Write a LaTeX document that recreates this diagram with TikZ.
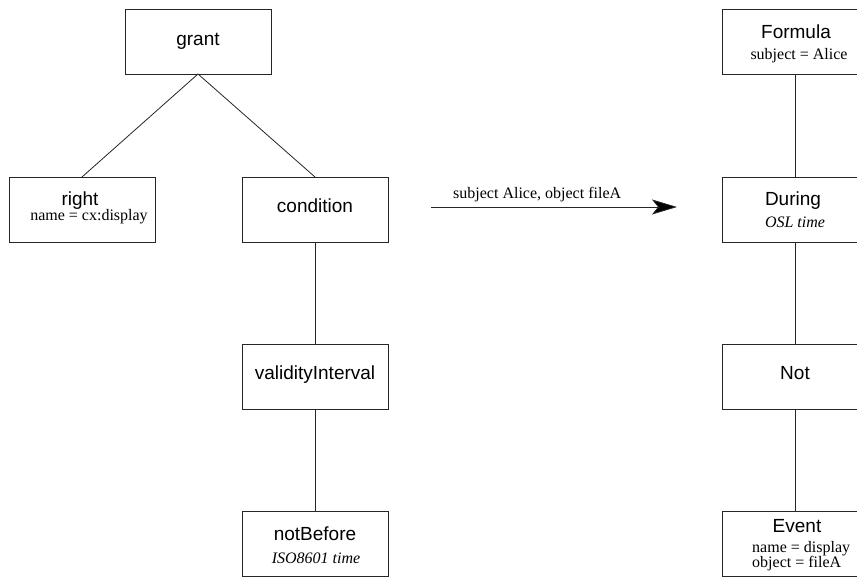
\documentclass[tikz,border=0pt]{standalone}
\usepackage{fontspec}
\setmainfont{Liberation Serif}
\setsansfont{Liberation Sans}
\usetikzlibrary{arrows.meta}

\tikzset{
  elem/.style={draw=black!85, line width=0.9pt, rectangle, inner sep=0pt, outer sep=0pt,
               minimum width=146pt, minimum height=65pt},
  tag/.style={anchor=base, inner sep=0pt, font=\sffamily\fontsize{19}{22}\selectfont},
  attr/.style={anchor=base, inner sep=0pt, font=\fontsize{16}{18}\selectfont},
  link/.style={draw=black!85, line width=0.8pt},
}

\begin{document}
\begin{tikzpicture}[x=1pt, y=-1pt]
  \useasboundingbox (0,0) rectangle (857,577);

  % ---- XML rights expression tree ----
  \node[elem] (grant) at (198,41.5) {};
  \node[tag] (grant-t) at (198,46) {grant};

  \node[elem] (right) at (82,209.5) {};
  \node[tag] (right-t) at (80,206) {right};
  \node[attr] (right-a) at (89,221) {name = cx:display};

  \node[elem] (condition) at (315,209.5) {};
  \node[tag] (condition-t) at (315,213) {condition};

  \node[elem] (validity) at (315,376.5) {};
  \node[tag] (validity-t) at (315,380) {validityInterval};

  \node[elem] (notbefore) at (315,544) {};
  \node[tag] (notbefore-t) at (315,540) {notBefore};
  \node[attr] (notbefore-a) at (316,563) {\itshape ISO8601 time};

  \draw[link] (grant.south) -- (right.north);
  \draw[link] (grant.south) -- (condition.north);
  \draw[link] (condition.south) -- (validity.north);
  \draw[link] (validity.south) -- (notbefore.north);

  % ---- translation arrow ----
  \coordinate (arr-from) at (431,207);
  \coordinate (arr-to) at (677,207);
  \draw[link, -{Stealth[length=25pt, width=15pt, inset=6pt, fill=black]}] (arr-from) -- (arr-to);
  \node[attr, anchor=base west] (arr-label) at (453,199) {subject Alice, object fileA};

  % ---- logic formula tree ----
  \node[elem] (formula) at (795,41.5) {};
  \node[tag] (formula-t) at (796,39) {Formula};
  \node[attr] (formula-a) at (799,60) {subject = Alice};

  \node[elem] (during) at (795,209.5) {};
  \node[tag] (during-t) at (793,206) {During};
  \node[attr] (during-a) at (795,228) {\itshape OSL time};

  \node[elem] (not) at (795,376.5) {};
  \node[tag] (not-t) at (795,380) {Not};

  \node[elem] (event) at (795,544) {};
  \node[tag] (event-t) at (797,532) {Event};
  \node[attr, anchor=base west] (event-a) at (752,552) {name = display};
  \node[attr, anchor=base west] (event-b) at (752,567.5) {object = fileA};

  \draw[link] (formula.south) -- (during.north);
  \draw[link] (during.south) -- (not.north);
  \draw[link] (not.south) -- (event.north);
\end{tikzpicture}
\end{document}
